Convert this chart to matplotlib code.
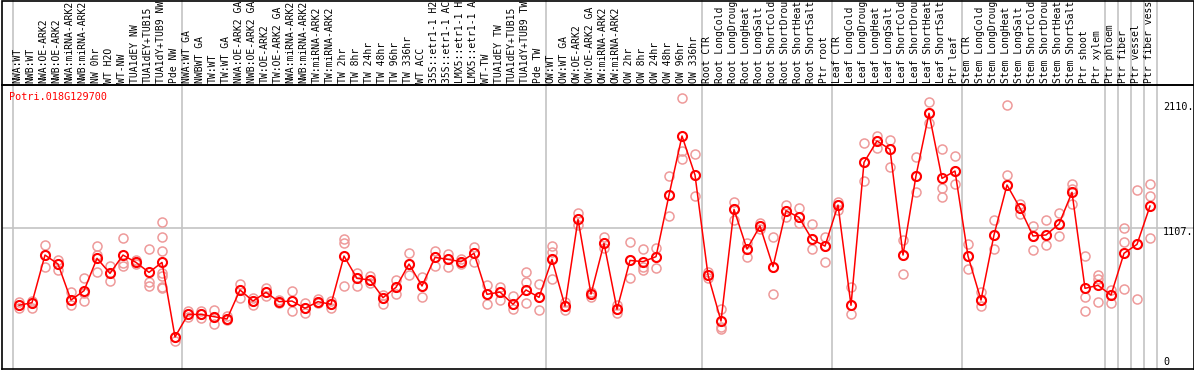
import matplotlib
matplotlib.use("Agg")
import matplotlib.pyplot as plt
import matplotlib.transforms as mtransforms
from matplotlib.patches import Rectangle

gene = "Potri.018G129700"

# sample names, as far as the label box shows them
labels = [
    "NWA:WT", "NWB:WT", "NWA:OE-ARK2", "NWB:OE-ARK2", "NWA:miRNA-ARK2", "NWB:miRNA-ARK2",
    "NW 0hr", "WT H2O", "WT-NW", "TUA1dEY NW", "TUA1dEY+TUB15", "TUA1dY+TUB9 NW", "Pde NW",
    "NWA:WT GA", "NWBWT GA", "TW:WT", "TW:WT GA", "NWA:OE-ARK2 GA", "NWB:OE-ARK2 GA",
    "TW:OE-ARK2", "TW:OE-ARK2 GA", "NWA:miRNA-ARK2", "NWB:miRNA-ARK2", "TW:miRNA-ARK2",
    "TW:miRNA-ARK2", "TW 2hr", "TW 8hr", "TW 24hr", "TW 48hr", "TW 96hr", "TW 336hr", "WT ACC",
    "35S::etr1-1 H2", "35S::etr1-1 AC", "LMX5::etr1-1 H", "LMX5::etr1-1 A", "WT-TW",
    "TUA1dEY TW", "TUA1dEY+TUB15", "TUA1dY+TUB9 TW", "Pde TW",
    "OW:WT", "OW:WT GA", "OW:OE-ARK2", "OW:OE-ARK2 GA", "OW:miRNA-ARK2", "OW:miRNA-ARK2",
    "OW 2hr", "OW 8hr", "OW 24hr", "OW 48hr", "OW 96hr", "OW 336hr",
    "Root CTR", "Root LongCold", "Root LongDroug", "Root LongHeat", "Root LongSalt",
    "Root ShortCold", "Root ShortDrou", "Root ShortHeat", "Root ShortSalt", "Ptr root",
    "Leaf CTR", "Leaf LongCold", "Leaf LongDroug", "Leaf LongHeat", "Leaf LongSalt",
    "Leaf ShortCold", "Leaf ShortDrou", "Leaf ShortHeat", "Leaf ShortSalt", "Ptr leaf",
    "Stem CTR", "Stem LongCold", "Stem LongDroug", "Stem LongHeat", "Stem LongSalt",
    "Stem ShortCold", "Stem ShortDrou", "Stem ShortHeat", "Stem ShortSalt", "Ptr shoot",
    "Ptr xylem", "Ptr phloem", "Ptr fiber", "Ptr vessel", "Ptr fiber vess",
]

# mean expression per sample
means = [
    487, 508, 890, 818, 529, 604, 864, 743, 890, 831, 751, 831, 233,
    414, 414, 396, 377, 610, 521, 591, 516, 521, 463, 516, 495, 882, 703, 690,
    548, 631, 818, 642, 871, 855, 837, 904, 575, 593, 495, 610, 551,
    855, 481, 1176, 577, 984, 455, 847, 837, 877, 1371, 1845, 1532,
    730, 361, 1256, 938, 1123, 797, 1246, 1192, 1016, 962,
    1291, 487, 1633, 1805, 1738, 890, 1526, 2027, 1505, 1564,
    882, 529, 1051, 1452, 1267, 1043, 1051, 1139, 1393, 623, 647,
    569, 904, 976, 1283,
]

# individual replicates per sample
replicates = [
    [516, 487, 463], [524, 508, 463], [970, 890, 791], [850, 818, 770], [591, 529, 489],
    [703, 583, 519], [962, 890, 757], [802, 743, 684], [1024, 829, 805], [850, 831, 815],
    [936, 676, 644], [1152, 1035, 920, 748, 722, 636, 623], [233, 203],
    [441, 414, 390], [441, 414, 385], [449, 396, 334], [400, 377, 366], [658, 610, 548],
    [548, 521, 489], [623, 591, 561], [529, 516, 503], [602, 521, 441], [503, 463, 428],
    [535, 516, 503], [521, 495, 468], [1016, 989, 642], [748, 703, 642], [722, 690, 663],
    [569, 548, 495], [690, 631, 575], [904, 818, 730], [711, 642, 556], [925, 871, 805],
    [898, 855, 797], [855, 837, 820], [957, 904, 837], [650, 575, 495], [636, 593, 529],
    [564, 495, 457], [751, 676, 610, 503], [655, 551, 449],
    [965, 914, 855, 695], [516, 481, 449], [1230, 1176, 1131], [590, 577, 551],
    [1032, 984, 944], [489, 455, 423], [992, 847, 703], [936, 797, 770], [944, 877, 784],
    [1526, 1371, 1203], [2147, 1724, 1658], [1700, 1532, 1363],
    [753, 730, 703], [455, 315, 299], [1318, 1256, 1171], [984, 938, 877], [1149, 1123, 1100],
    [1032, 797, 575], [1291, 1246, 1197], [1265, 1192, 1149], [1136, 1016, 936], [1037, 962, 837],
    [1318, 1291, 1251], [631, 487, 414], [1786, 1633, 1484], [1845, 1805, 1751],
    [1813, 1738, 1594], [1011, 890, 735], [1674, 1526, 1398], [2115, 2027, 1946],
    [1738, 1425, 1353], [1684, 1564, 1457],
    [978, 882, 776], [595, 529, 480], [1171, 1051, 940], [2093, 1532, 1452], [1300, 1267, 1220],
    [1123, 1043, 930], [1171, 1051, 970], [1224, 1139, 1043], [1460, 1420, 1297],
    [882, 551, 441], [730, 695, 511],
    [610, 569, 503], [1104, 992, 615], [1412, 976, 535], [1457, 1363, 1024],
]

# sample index where each group starts
group_starts = [0, 13, 41, 53, 63, 73, 84, 85, 86, 87, 88]
y_ticks = [0, 1107, 2110]
y_tick_labels = ["0", "1107.", "2110."]

mono = "DejaVu Sans Mono"
red = "#ff0000"
pink = "#ee9a9a"
grey = "#c4c4c4"

W, H = 1194, 370
fig = plt.figure(figsize=(W / 100, H / 100), dpi=100)
ax = fig.add_axes([2 / W, 1 - 369 / H, 1191.5 / W, 284 / H])

ax.set_xlim((2 - 19) / 13, (1193.5 - 19) / 13)
ax.set_ylim(-24, 2254)
ax.set_xticks([])
ax.set_yticks([])
for s in ax.spines.values():
    s.set_linewidth(1.2)
    s.set_color("black")

trans = mtransforms.blended_transform_factory(ax.transData, ax.transAxes)

# group separators, also running up through the label box
for g in group_starts:
    ax.plot([g - 0.5, g - 0.5], [0, 1 + 85 / 284], transform=trans, color=grey,
            lw=1.2, clip_on=False, zorder=1)
ax.axhline(y_ticks[1], color=grey, lw=1.2, zorder=1)

xs = list(range(len(means)))
for i, reps in enumerate(replicates):
    ax.plot([i] * len(reps), reps, "o", ms=6.5, mfc="none", mec=pink, mew=1.1, zorder=2)
ax.plot(xs, means, "-", color=red, lw=1.1, zorder=3)
ax.plot(xs, means, "o", ms=6.5, mfc="none", mec=red, mew=1.5, zorder=4)

for i, lab in enumerate(labels):
    ax.text(i - 0.1, 1.007, lab, transform=trans, rotation=90, ha="center", va="bottom",
            family=mono, fontsize=7.0, clip_on=False)

ax.text(-0.75, 2195, gene, color=red, family=mono, fontsize=7.3, va="top", ha="left")

# value labels in the strip right of the last column
offsets = [32, -32, -32]
for v, t, off in zip(y_ticks, y_tick_labels, offsets):
    ax.text(88.0, v + off, t, family=mono, fontsize=7.3, va="center", ha="left")

# box round the label area
fig.add_artist(Rectangle((2 / W, 1 - 85 / H), 1191.5 / W, 84.5 / H, transform=fig.transFigure,
                         fill=False, ec="black", lw=1.2))

fig.savefig("out.png", dpi=100)
